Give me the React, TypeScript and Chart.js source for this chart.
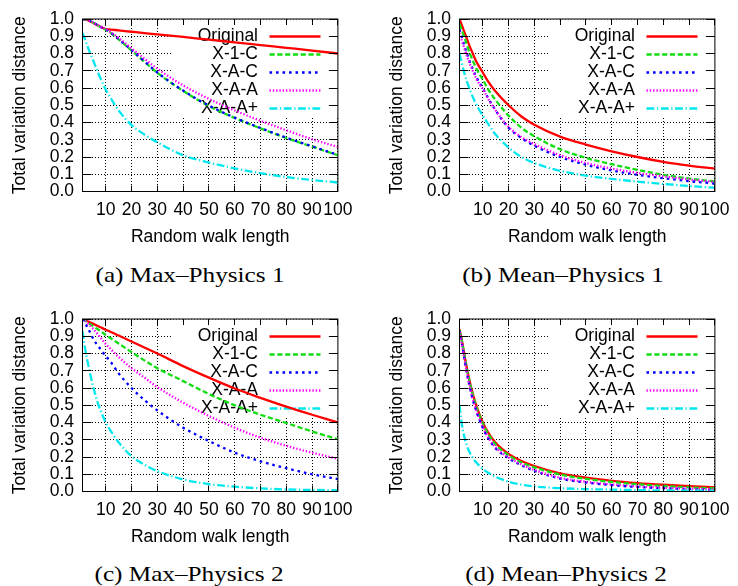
import React, { useEffect, useRef } from "react";
import { Chart, registerables } from "chart.js";

Chart.register(...registerables);

// ---------- data ----------
const X_VALUES = [1, 2, 3, 4, 5, 6, 7, 8, 10, 12, 15, 20, 25, 30, 40, 50, 60, 70, 80, 90, 100];
const X_TICKS = [10, 20, 30, 40, 50, 60, 70, 80, 90, 100];
const Y_TICKS = [0, 0.1, 0.2, 0.3, 0.4, 0.5, 0.6, 0.7, 0.8, 0.9, 1.0];
const SERIES_LABELS = ["Original", "X-1-C", "X-A-C", "X-A-A", "X-A-A+"];
const X_TITLE = "Random walk length";
const Y_TITLE = "Total variation distance";
const CAPTIONS = ["(a) Max\u2013Physics 1", "(b) Mean\u2013Physics 1", "(c) Max\u2013Physics 2", "(d) Mean\u2013Physics 2"];

// (a) Max–Physics 1
const A_ORIGINAL = [1.0, 0.998, 0.993, 0.986, 0.978, 0.97, 0.962, 0.955, 0.942, 0.939, 0.934, 0.926, 0.918, 0.911, 0.896, 0.88, 0.865, 0.849, 0.833, 0.817, 0.8];
const A_X1C = [1.0, 0.998, 0.995, 0.988, 0.98, 0.972, 0.963, 0.953, 0.938, 0.918, 0.882, 0.818, 0.752, 0.688, 0.583, 0.496, 0.426, 0.366, 0.31, 0.26, 0.21];
const A_XAC = [1.0, 0.998, 0.995, 0.988, 0.981, 0.973, 0.964, 0.954, 0.94, 0.92, 0.884, 0.82, 0.755, 0.69, 0.585, 0.498, 0.428, 0.368, 0.312, 0.262, 0.212];
const A_XAA = [1.0, 0.998, 0.995, 0.988, 0.981, 0.973, 0.965, 0.955, 0.942, 0.922, 0.89, 0.83, 0.77, 0.712, 0.615, 0.537, 0.47, 0.41, 0.355, 0.303, 0.258];
const A_XAAP = [0.92, 0.88, 0.84, 0.8, 0.765, 0.727, 0.69, 0.655, 0.59, 0.54, 0.47, 0.385, 0.33, 0.285, 0.21, 0.168, 0.134, 0.106, 0.084, 0.067, 0.052];

// (b) Mean–Physics 1
const B_ORIGINAL = [1.0, 0.96, 0.92, 0.88, 0.84, 0.805, 0.77, 0.74, 0.69, 0.64, 0.58, 0.5, 0.435, 0.387, 0.318, 0.272, 0.233, 0.2, 0.172, 0.15, 0.132];
const B_X1C = [0.97, 0.93, 0.89, 0.845, 0.8, 0.765, 0.73, 0.7, 0.65, 0.595, 0.53, 0.44, 0.37, 0.32, 0.245, 0.195, 0.158, 0.125, 0.097, 0.075, 0.058];
const B_XAC = [0.94, 0.89, 0.84, 0.795, 0.75, 0.715, 0.68, 0.65, 0.6, 0.545, 0.47, 0.37, 0.31, 0.265, 0.2, 0.155, 0.122, 0.097, 0.077, 0.06, 0.046];
const B_XAA = [0.92, 0.87, 0.825, 0.78, 0.74, 0.705, 0.67, 0.64, 0.595, 0.54, 0.47, 0.375, 0.315, 0.275, 0.21, 0.165, 0.133, 0.108, 0.088, 0.07, 0.055];
const B_XAAP = [0.8, 0.74, 0.68, 0.632, 0.59, 0.553, 0.52, 0.49, 0.44, 0.395, 0.33, 0.255, 0.2, 0.165, 0.12, 0.092, 0.073, 0.057, 0.044, 0.032, 0.022];

// (c) Max–Physics 2
const C_ORIGINAL = [1.0, 0.994, 0.987, 0.98, 0.973, 0.966, 0.959, 0.952, 0.938, 0.925, 0.904, 0.87, 0.835, 0.8, 0.727, 0.66, 0.597, 0.543, 0.492, 0.445, 0.4];
const C_X1C = [1.0, 0.99, 0.98, 0.97, 0.96, 0.95, 0.94, 0.93, 0.908, 0.888, 0.858, 0.808, 0.76, 0.715, 0.64, 0.565, 0.5, 0.445, 0.397, 0.348, 0.303];
const C_XAC = [1.0, 0.975, 0.95, 0.92, 0.89, 0.865, 0.845, 0.825, 0.785, 0.75, 0.685, 0.6, 0.53, 0.47, 0.37, 0.293, 0.225, 0.175, 0.135, 0.1, 0.072];
const C_XAA = [1.0, 0.99, 0.975, 0.96, 0.945, 0.928, 0.91, 0.892, 0.855, 0.825, 0.78, 0.715, 0.66, 0.605, 0.515, 0.438, 0.37, 0.312, 0.265, 0.225, 0.19];
const C_XAAP = [0.93, 0.83, 0.75, 0.68, 0.615, 0.56, 0.51, 0.47, 0.4, 0.35, 0.285, 0.205, 0.155, 0.118, 0.07, 0.043, 0.028, 0.018, 0.012, 0.009, 0.007];

// (d) Mean–Physics 2
const D_ORIGINAL = [0.94, 0.87, 0.785, 0.705, 0.635, 0.575, 0.522, 0.478, 0.402, 0.345, 0.282, 0.218, 0.177, 0.148, 0.105, 0.08, 0.062, 0.049, 0.039, 0.031, 0.024];
const D_X1C = [0.935, 0.865, 0.78, 0.7, 0.63, 0.568, 0.515, 0.47, 0.393, 0.336, 0.273, 0.21, 0.169, 0.14, 0.098, 0.073, 0.055, 0.042, 0.032, 0.024, 0.018];
const D_XAC = [0.93, 0.85, 0.76, 0.675, 0.605, 0.54, 0.49, 0.445, 0.37, 0.312, 0.25, 0.193, 0.152, 0.12, 0.075, 0.052, 0.037, 0.026, 0.019, 0.014, 0.01];
const D_XAA = [0.925, 0.845, 0.76, 0.678, 0.608, 0.545, 0.495, 0.45, 0.375, 0.318, 0.256, 0.198, 0.157, 0.125, 0.08, 0.056, 0.041, 0.03, 0.022, 0.016, 0.012];
const D_XAAP = [0.5, 0.38, 0.31, 0.26, 0.224, 0.198, 0.177, 0.16, 0.13, 0.11, 0.085, 0.057, 0.04, 0.029, 0.019, 0.014, 0.011, 0.008, 0.006, 0.005, 0.004];

const PANEL_SERIES = [
  [A_ORIGINAL, A_X1C, A_XAC, A_XAA, A_XAAP],
  [B_ORIGINAL, B_X1C, B_XAC, B_XAA, B_XAAP],
  [C_ORIGINAL, C_X1C, C_XAC, C_XAA, C_XAAP],
  [D_ORIGINAL, D_X1C, D_XAC, D_XAA, D_XAAP],
];

// ---------- styles ----------
const COLORS = ["#ff0000", "#11dd11", "#0000ff", "#ff00ff", "#00e8ee"];
const DASHES: number[][] = [[], [5.2, 2.6], [2.6, 3.9], [1.4, 1.9], [7.8, 2.6, 1.3, 2.6]];
const LINE_W = 2.3;
const SANS = '"Liberation Sans", Arial, Helvetica, sans-serif';
const FONT_SIZE = 17.5;

const CANVAS_W = 361;
const CANVAS_H = 255;
const PANEL_POS = [
  { left: 0, top: 0 },
  { left: 377, top: 0 },
  { left: 0, top: 300 },
  { left: 377, top: 300 },
];
const CAPTION_POS = [
  { cx: 189.5, cy: 275 },
  { cx: 563, cy: 275 },
  { cx: 189, cy: 574 },
  { cx: 565.5, cy: 574 },
];

const framePlugin = {
  id: "gnuplotFrame",
  beforeDatasetsDraw(chart: any) {
    const { ctx, chartArea: a } = chart;
    ctx.save();
    // opaque key box
    ctx.fillStyle = "#ffffff";
    ctx.fillRect(a.left + 90, a.top + 0.5, a.right - a.left - 90, 97);
    // key
    ctx.font = `${FONT_SIZE}px ${SANS}`;
    ctx.textAlign = "right";
    ctx.textBaseline = "middle";
    ctx.fillStyle = "#000";
    SERIES_LABELS.forEach((lab, i) => {
      const y = a.top + 17.5 + 18 * i;
      ctx.fillText(lab, a.left + 175.5, y);
      ctx.beginPath();
      ctx.strokeStyle = COLORS[i];
      ctx.lineWidth = LINE_W;
      ctx.setLineDash(DASHES[i]);
      ctx.moveTo(a.left + 187, y);
      ctx.lineTo(a.left + 238, y);
      ctx.stroke();
    });
    ctx.restore();
  },
  afterDatasetsDraw(chart: any) {
    const { ctx, chartArea: a, scales } = chart;
    ctx.save();
    ctx.strokeStyle = "#000";
    ctx.lineWidth = 1;
    ctx.setLineDash([]);
    ctx.beginPath();
    X_TICKS.forEach((v) => {
      const px = Math.round(scales.x.getPixelForValue(v) - 0.5) + 0.5;
      ctx.moveTo(px, a.bottom);
      ctx.lineTo(px, a.bottom - 6);
      ctx.moveTo(px, a.top);
      ctx.lineTo(px, a.top + 6);
    });
    Y_TICKS.forEach((v) => {
      const py = Math.round(scales.y.getPixelForValue(v) - 0.5) + 0.5;
      ctx.moveTo(a.left, py);
      ctx.lineTo(a.left + 9, py);
      ctx.moveTo(a.right, py);
      ctx.lineTo(a.right - 9, py);
    });
    ctx.stroke();
    ctx.strokeRect(a.left, a.top, a.right - a.left, a.bottom - a.top);
    ctx.restore();
  },
};

function makeConfig(series: number[][]): any {
  const font = { family: SANS, size: FONT_SIZE };
  return {
    type: "line",
    data: {
      datasets: series.map((vals, i) => ({
        label: SERIES_LABELS[i],
        data: X_VALUES.map((x, j) => ({ x, y: vals[j] })),
        borderColor: COLORS[i],
        borderWidth: LINE_W,
        borderDash: DASHES[i],
        pointRadius: 0,
        pointHoverRadius: 0,
        fill: false,
        cubicInterpolationMode: "monotone",
        order: series.length - 1 - i,
      })),
    },
    options: {
      animation: false,
      responsive: false,
      devicePixelRatio: 1,
      events: [],
      layout: { padding: { left: 0, top: 12.5, right: CANVAS_W - 341.5, bottom: CANVAS_H - 191.5 - 56 } },
      plugins: { legend: { display: false }, tooltip: { enabled: false }, title: { display: false } },
      scales: {
        x: {
          type: "linear",
          min: 1,
          max: 100,
          afterBuildTicks: (s: any) => {
            s.ticks = X_TICKS.map((v) => ({ value: v }));
          },
          afterFit: (s: any) => {
            s.height = 56;
          },
          grid: { color: "#000", lineWidth: 1, drawTicks: false },
          border: { display: false, dash: [1, 2] },
          ticks: { font, color: "#000", padding: 8.5, maxRotation: 0, autoSkip: false, callback: (v: any) => String(v) },
          title: { display: true, text: X_TITLE, font, color: "#000", padding: { top: 0, bottom: 0 } },
        },
        y: {
          type: "linear",
          min: 0,
          max: 1,
          afterBuildTicks: (s: any) => {
            s.ticks = Y_TICKS.map((v) => ({ value: v }));
          },
          afterFit: (s: any) => {
            s.width = 82.5;
          },
          grid: { color: "#000", lineWidth: 1, drawTicks: false },
          border: { display: false, dash: [1, 2] },
          ticks: { font, color: "#000", padding: 8.5, autoSkip: false, callback: (v: any) => Number(v).toFixed(1) },
          title: { display: true, text: Y_TITLE, font, color: "#000", padding: { top: 9.5, bottom: 0 } },
        },
      },
    },
    plugins: [framePlugin],
  };
}

export default function App() {
  const r0 = useRef<HTMLCanvasElement>(null);
  const r1 = useRef<HTMLCanvasElement>(null);
  const r2 = useRef<HTMLCanvasElement>(null);
  const r3 = useRef<HTMLCanvasElement>(null);
  const refs = [r0, r1, r2, r3];

  useEffect(() => {
    const charts = refs.map((r, i) => new Chart(r.current as HTMLCanvasElement, makeConfig(PANEL_SERIES[i])));
    return () => charts.forEach((c) => c.destroy());
  }, []);

  return (
    <div style={{ position: "absolute", left: 0, top: 0, width: 738, height: 586, background: "#fff", overflow: "hidden" }}>
      {PANEL_POS.map((p, i) => (
        <canvas
          key={i}
          ref={refs[i]}
          width={CANVAS_W}
          height={CANVAS_H}
          style={{ position: "absolute", left: p.left, top: p.top, width: CANVAS_W, height: CANVAS_H, display: "block" }}
        />
      ))}
      {CAPTIONS.map((t, i) => (
        <div
          key={"c" + i}
          style={{
            position: "absolute",
            left: CAPTION_POS[i].cx - 150,
            top: CAPTION_POS[i].cy - 14,
            width: 300,
            height: 28,
            lineHeight: "28px",
            textAlign: "center",
            fontFamily: '"Liberation Serif", "Times New Roman", serif',
            fontSize: 21,
            color: "#000",
            whiteSpace: "nowrap",
            transform: "scaleX(1.2)",
            transformOrigin: "50% 50%",
          }}
        >
          {t}
        </div>
      ))}
    </div>
  );
}
